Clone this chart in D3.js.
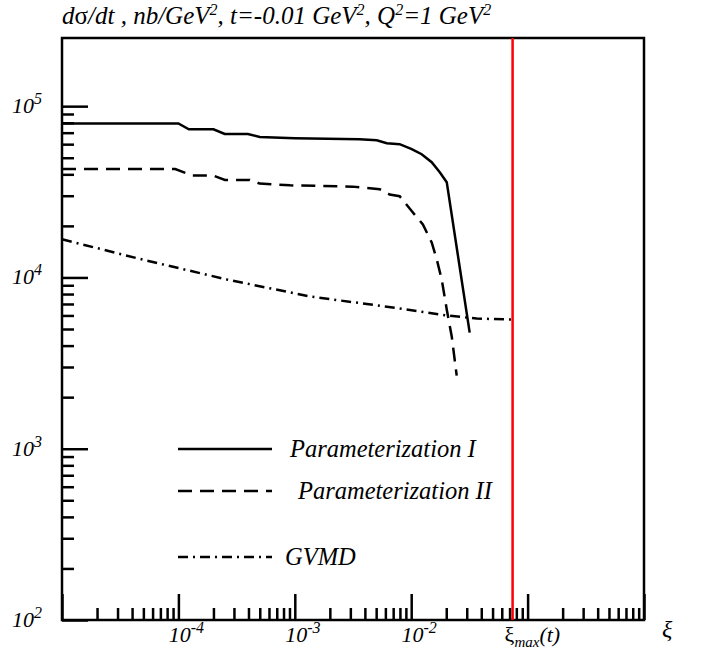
<!doctype html>
<html>
<head>
    <meta charset="UTF-8">
    <title>dsigma/dt</title>
    <script src="https://d3js.org/d3.v7.min.js"></script>
    <style>
        body { margin: 0; background: #fff; }
        text { font-family: "Liberation Serif", "DejaVu Serif", serif; font-style: italic; fill: #000; }
    </style>
</head>
<body>
    <svg width="705" height="658"></svg>
    <script>
        // Parameterization I
        var xiI = [1e-5, 1e-4, 1.23e-4, 2.0e-4, 2.5e-4, 3.95e-4, 5.0e-4, 1.0e-3, 3.6e-3, 5.06e-3, 6.17e-3, 7.96e-3, 1.01e-2, 1.23e-2, 1.5e-2, 1.76e-2, 2.02e-2, 3.18e-2];
        var sigI = [79200, 79200, 73300, 73300, 68800, 68800, 66100, 65000, 64100, 63200, 60800, 60000, 56100, 52400, 47100, 41100, 36000, 4760];
        // Parameterization II
        var xiII = [1e-5, 9.4e-5, 1.31e-4, 1.98e-4, 2.51e-4, 4.1e-4, 5.0e-4, 9.1e-4, 3.15e-3, 5.37e-3, 6.53e-3, 7.96e-3, 1.03e-2, 1.26e-2, 1.5e-2, 1.66e-2, 1.83e-2, 2.02e-2, 2.23e-2, 2.46e-2];
        var sigII = [42900, 42900, 39400, 39400, 37100, 37100, 35300, 34500, 33900, 32700, 30500, 29800, 24000, 20400, 16000, 12700, 9700, 6500, 4520, 2670];
        // GVMD
        var xiG = [1e-5, 4.95e-5, 2.61e-4, 1.35e-3, 6.93e-3, 2.02e-2, 3.65e-2, 7.3e-2];
        var sigG = [16700, 12700, 9730, 7740, 6680, 6000, 5750, 5680];

        var xiMax = 0.0743;
        var xTickExps = [-4, -3, -2];
        var yTickExps = [2, 3, 4, 5];
        var legendNames = ["Parameterization I", "Parameterization II", "GVMD"];

        var svg = d3.select("svg");
        var pL = 62, pR = 644, pT = 38, pB = 620;

        var x = d3.scaleLog().domain([1e-5, 1]).range([pL, pR]);
        var y = d3.scaleLog().domain([100, 2.5e5]).range([pB, pT]);

        // ticks (inward)
        var xMajor = [], xMinor = [];
        for (var e = -5; e <= 0; e++) {
            xMajor.push(Math.pow(10, e));
            if (e < 0) for (var k = 2; k <= 9; k++) xMinor.push(k * Math.pow(10, e));
        }
        var yMajor = [], yMinor = [];
        for (var e = 2; e <= 5; e++) {
            yMajor.push(Math.pow(10, e));
            if (e < 5) for (var k = 2; k <= 9; k++) yMinor.push(k * Math.pow(10, e));
        }

        function tickAxis(axis) {
            var g = svg.append("g").call(axis);
            g.select(".domain").remove();
            g.selectAll("line").attr("stroke", "#000").attr("stroke-width", 2.5);
            g.selectAll("text").remove();
            return g;
        }
        tickAxis(d3.axisBottom(x).tickValues(xMajor).tickSize(-26)).attr("transform", "translate(0," + pB + ")");
        tickAxis(d3.axisBottom(x).tickValues(xMinor).tickSize(-12)).attr("transform", "translate(0," + pB + ")");
        tickAxis(d3.axisLeft(y).tickValues(yMajor).tickSize(-26)).attr("transform", "translate(" + pL + ",0)");
        tickAxis(d3.axisLeft(y).tickValues(yMinor).tickSize(-12)).attr("transform", "translate(" + pL + ",0)");

        // frame
        svg.append("rect").attr("x", pL).attr("y", pT).attr("width", pR - pL).attr("height", pB - pT)
            .attr("fill", "none").attr("stroke", "#000").attr("stroke-width", 2.5);

        // xi_max line
        svg.append("line").attr("x1", x(xiMax)).attr("x2", x(xiMax)).attr("y1", pT).attr("y2", pB)
            .attr("stroke", "#ff0000").attr("stroke-width", 2.5);

        // curves
        var line = d3.line().x(function (d) { return x(d[0]); }).y(function (d) { return y(d[1]); });
        var styles = ["none", "14,8", "10,5,2,5"];
        var series = [d3.zip(xiI, sigI), d3.zip(xiII, sigII), d3.zip(xiG, sigG)];
        series.forEach(function (s, i) {
            svg.append("path").datum(s).attr("d", line)
                .attr("fill", "none").attr("stroke", "#000").attr("stroke-width", 2.5)
                .attr("stroke-dasharray", styles[i]);
        });

        // tick labels
        yTickExps.forEach(function (p) {
            var t = svg.append("text").attr("x", 12).attr("y", y(Math.pow(10, p)) + 7).attr("font-size", 22);
            t.append("tspan").text("10");
            t.append("tspan").attr("dy", -9).attr("font-size", 16).text(p);
        });
        xTickExps.forEach(function (p) {
            var t = svg.append("text").attr("x", x(Math.pow(10, p)) + 8).attr("y", 642).attr("font-size", 22)
                .attr("text-anchor", "middle");
            t.append("tspan").text("10");
            t.append("tspan").attr("dy", -9).attr("font-size", 16).text(p);
        });
        var xm = svg.append("text").attr("x", x(xiMax) - 8).attr("y", 642).attr("font-size", 22);
        xm.append("tspan").attr("font-style", "normal").text("ξ");
        xm.append("tspan").attr("dy", 5).attr("font-size", 15).text("max");
        xm.append("tspan").attr("dy", -5).text("(t)");
        svg.append("text").attr("x", 662).attr("y", 637).attr("font-size", 24).attr("font-style", "normal").text("ξ");

        // title
        var title = svg.append("text").attr("x", 62).attr("y", 24).attr("font-size", 25);
        title.append("tspan").text("d");
        title.append("tspan").attr("font-style", "normal").text("σ");
        title.append("tspan").text("/dt , nb/GeV");
        title.append("tspan").attr("dy", -9).attr("font-size", 16).text("2");
        title.append("tspan").attr("dy", 9).text(", t=-0.01 GeV");
        title.append("tspan").attr("dy", -9).attr("font-size", 16).text("2");
        title.append("tspan").attr("dy", 9).text(", Q");
        title.append("tspan").attr("dy", -9).attr("font-size", 16).text("2");
        title.append("tspan").attr("dy", 9).text("=1 GeV");
        title.append("tspan").attr("dy", -9).attr("font-size", 16).text("2");

        // legend
        var legY = [449, 491, 557];
        var legTx = [290, 298, 285];
        legendNames.forEach(function (n, i) {
            svg.append("line").attr("x1", 178).attr("x2", 272).attr("y1", legY[i]).attr("y2", legY[i])
                .attr("stroke", "#000").attr("stroke-width", 2.5).attr("stroke-dasharray", styles[i]);
            svg.append("text").attr("x", legTx[i]).attr("y", legY[i] + 8).attr("font-size", 24.5).text(n);
        });
    </script>
</body>
</html>
